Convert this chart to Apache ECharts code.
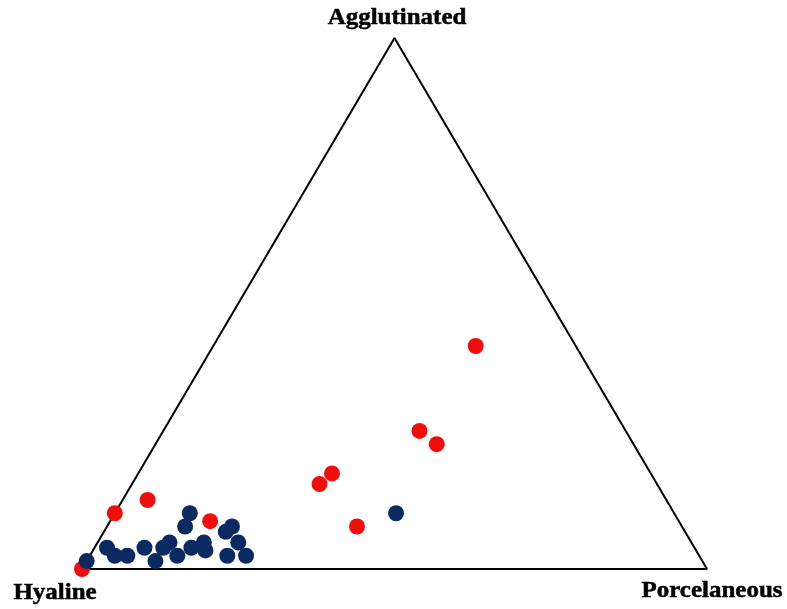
<!DOCTYPE html>
<html>
<head>
<meta charset="utf-8">
<script src="https://cdn.jsdelivr.net/npm/echarts@6/dist/echarts.min.js"></script>
<style>
  html, body { margin: 0; padding: 0; background: #ffffff; }
  #chart { width: 787px; height: 609px; }
</style>
</head>
<body>
<div id="chart"></div>
<script>
// Ternary composition of foraminiferal wall types (percent)
const vertexNames = ['Agglutinated', 'Hyaline', 'Porcelaneous'];

// Group 1 (red): [Agglutinated, Porcelaneous, Hyaline]
const redAgglutinated = [42, 26, 23.5, 18, 16, 8, 13, 10.5, 9, 0];
const redPorcelaneous = [42, 41, 45, 31, 30, 40, 4, 0, 16, 0];
const redHyaline      = [16, 33, 31.5, 51, 54, 52, 83, 89.5, 75, 100];

// Group 2 (navy): [Agglutinated, Porcelaneous, Hyaline]
const navyAgglutinated = [10.5, 1.5, 4, 2.5, 2.5, 4, 1.5, 4, 5, 2.5, 8, 10.5, 4, 5, 3.5, 7, 8, 5, 2.5, 2.5];
const navyPorcelaneous = [45, 0, 2, 4, 6, 8, 11, 11, 11.5, 14, 12.5, 12, 15.5, 17, 18, 19.5, 20, 22.5, 22, 25];
const navyHyaline      = [44.5, 98.5, 94, 93.5, 91.5, 88, 87.5, 85, 83.5, 83.5, 79.5, 77.5, 80.5, 78, 78.5, 73.5, 72, 72.5, 75.5, 72.5];

// Map a composition to the plane: Hyaline at (0,0), Porcelaneous at (100,0), Agglutinated at (50,100)
function toXY(a, p, h) {
  const s = a + p + h;
  const an = a / s * 100, pn = p / s * 100;
  return [pn + an / 2, an];
}
function buildPoints(aArr, pArr, hArr) {
  return aArr.map((a, i) => toXY(a, pArr[i], hArr[i]));
}

// Triangle outline through the three vertices
const triangle = [toXY(0, 0, 100), toXY(0, 100, 0), toXY(100, 0, 0), toXY(0, 0, 100)];

const chart = echarts.init(document.getElementById('chart'), null, { renderer: 'canvas' });

// Bold serif vertex captions
function caption(text, x, y) {
  return {
    type: 'text',
    x: x, y: y,
    scaleX: 1.04,
    style: {
      text: text,
      x: 0, y: 0,
      align: 'center',
      verticalAlign: 'middle',
      fontFamily: '"Liberation Serif", "Times New Roman", serif',
      fontWeight: 'bold',
      fontSize: 24,
      fill: '#000',
      stroke: '#000',
      lineWidth: 0.5
    }
  };
}

chart.setOption({
  animation: false,
  backgroundColor: '#ffffff',
  grid: { left: 82, right: 80, top: 38, bottom: 40 },
  xAxis: { type: 'value', min: 0, max: 100, show: false },
  yAxis: { type: 'value', min: 0, max: 100, show: false },
  series: [
    {
      type: 'line',
      data: triangle,
      symbol: 'none',
      lineStyle: { color: '#000', width: 2 },
      z: 1
    },
    {
      type: 'scatter',
      data: buildPoints(redAgglutinated, redPorcelaneous, redHyaline),
      symbolSize: 16,
      itemStyle: { color: '#f20d0d', opacity: 1 },
      z: 2
    },
    {
      type: 'scatter',
      data: buildPoints(navyAgglutinated, navyPorcelaneous, navyHyaline),
      symbolSize: 16,
      itemStyle: { color: '#0b2a62', opacity: 1 },
      z: 3
    }
  ],
  graphic: [
    caption(vertexNames[0], 397, 18),
    caption(vertexNames[1], 55, 593),
    caption(vertexNames[2], 712, 591)
  ]
});
</script>
</body>
</html>
